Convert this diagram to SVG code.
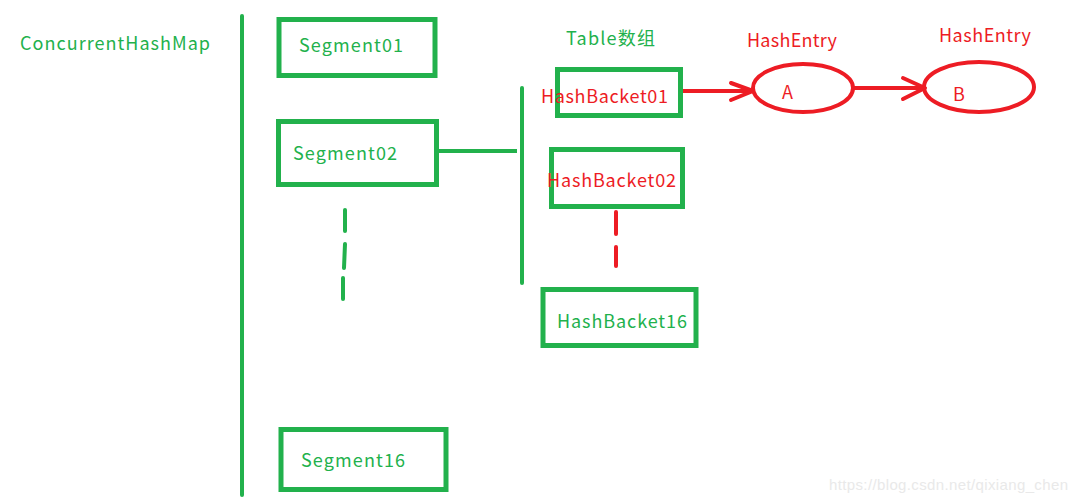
<svg xmlns="http://www.w3.org/2000/svg" width="1075" height="503" viewBox="0 0 1075 503">
<style>
.g{fill:none;stroke:#22b14c;stroke-width:4}
.gb{fill:none;stroke:#22b14c;stroke-width:5}
.r{fill:none;stroke:#ed1c24;stroke-width:4;stroke-linecap:round;stroke-linejoin:round}
.tg{font-family:"Noto Sans CJK SC","Liberation Sans",sans-serif;font-size:18px;fill:#22b14c}
.tr{font-family:"Noto Sans CJK SC","Liberation Sans",sans-serif;font-size:18px;fill:#ed1c24}
.wm{font-family:"Liberation Sans",sans-serif;font-size:15px;fill:#e9e9e9}
</style>
<rect width="1075" height="503" fill="#fff"/>
<g id="connectors">
<line class="g" x1="242" y1="16" x2="242" y2="495" stroke-linecap="round"/>
<line class="g" x1="438" y1="151" x2="517" y2="151"/>
<line class="g" x1="522" y1="88" x2="522" y2="283" stroke-linecap="round"/>
<g class="g" stroke-linecap="round">
<line x1="345" y1="210" x2="345" y2="231"/>
<line x1="345" y1="244" x2="344" y2="268"/>
<line x1="343" y1="278" x2="343" y2="299"/>
</g>
<g class="r">
<line x1="616" y1="212" x2="616" y2="234"/>
<line x1="616" y1="247" x2="616" y2="266"/>
<line x1="682" y1="91" x2="753" y2="91"/>
<polyline points="731,83 753,91 731,100"/>
<line x1="853" y1="88" x2="924" y2="88"/>
<polyline points="903,78 925,88 903,99"/>
</g>
</g>
<g id="title"><text class="tg" x="20" y="50" textLength="190">ConcurrentHashMap</text></g>
<g id="segment01"><rect class="gb" x="279" y="19.5" width="156" height="56"/><text class="tg" x="299" y="52" textLength="104">Segment01</text></g>
<g id="segment02"><rect class="gb" x="278.5" y="121.5" width="158" height="63"/><text class="tg" x="293" y="160" textLength="104">Segment02</text></g>
<g id="segment16"><rect class="gb" x="281" y="429.5" width="165" height="60"/><text class="tg" x="301" y="467" textLength="104">Segment16</text></g>
<g id="table"><text class="tg" x="566" y="45" textLength="89">Table数组</text></g>
<g id="hashbacket01"><rect class="gb" x="557.5" y="69.5" width="123" height="46"/><text class="tr" x="541" y="103" textLength="127">HashBacket01</text></g>
<g id="hashbacket02"><rect class="gb" x="551.5" y="149.5" width="131" height="57"/><text class="tr" x="547" y="187" textLength="129">HashBacket02</text></g>
<g id="hashbacket16"><rect class="gb" x="543" y="289.5" width="153" height="56"/><text class="tg" x="557" y="328" textLength="130">HashBacket16</text></g>
<g id="entryA"><text class="tr" x="747" y="47" textLength="90">HashEntry</text><ellipse class="r" cx="803" cy="88" rx="50" ry="24"/><text class="tr" x="782" y="99">A</text></g>
<g id="entryB"><text class="tr" x="939" y="42" textLength="92">HashEntry</text><ellipse class="r" cx="979" cy="87" rx="55" ry="25"/><text class="tr" x="953" y="101">B</text></g>
<text class="wm" x="829" y="490" textLength="239">https://blog.csdn.net/qixiang_chen</text>
</svg>
